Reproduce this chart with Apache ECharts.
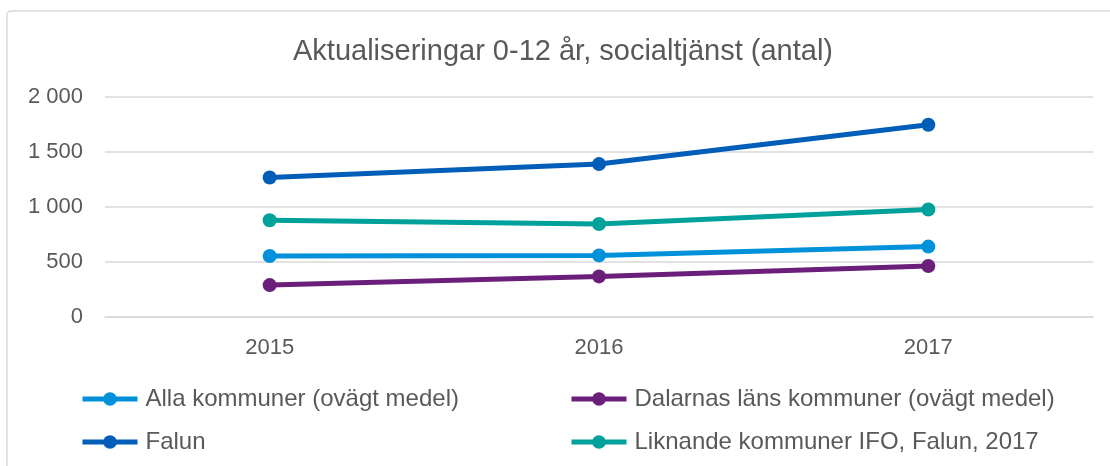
<!DOCTYPE html>
<html>
<head>
<meta charset="utf-8">
<script src="https://cdn.jsdelivr.net/npm/echarts@6/dist/echarts.min.js"></script>
<style>
  html, body { margin: 0; padding: 0; background: #fff; }
  #chart { width: 1110px; height: 466px; }
</style>
</head>
<body>
<div id="chart"></div>
<script>
var years = ['2015', '2016', '2017'];
var yTicks = [0, 500, 1000, 1500, 2000];

var allaKommuner = [554, 560, 640];
var dalarnas = [290, 369, 463];
var falun = [1268, 1390, 1748];
var liknande = [879, 846, 977];

var names = [
  'Alla kommuner (ovägt medel)',
  'Dalarnas läns kommuner (ovägt medel)',
  'Falun',
  'Liknande kommuner IFO, Falun, 2017'
];
var colors = ['#0091DA', '#6C1F7A', '#005EB8', '#00A19A'];

var myChart = echarts.init(document.getElementById('chart'));

function makeSeries(name, data, color) {
  return {
    name: name,
    type: 'line',
    data: data,
    symbol: 'circle',
    symbolSize: 14,
    lineStyle: { width: 5, color: color },
    itemStyle: { color: color },
    emphasis: { disabled: true }
  };
}

var textColor = '#595959';
var font = 'Liberation Sans, Arial, sans-serif';

function legendAt(left, data) {
  return {
    data: data,
    orient: 'vertical',
    left: left,
    top: 382,
    itemWidth: 55,
    itemHeight: 17,
    itemGap: 19,
    lineStyle: { width: 5 },
    textStyle: { color: textColor, fontSize: 24, fontFamily: font, padding: [0, 0, 0, 3] }
  };
}

var option = {
  animation: false,
  color: colors,
  title: {
    text: 'Aktualiseringar 0-12 år, socialtjänst (antal)',
    left: 288,
    top: 32,
    textStyle: { color: textColor, fontSize: 29, fontWeight: 'normal', fontFamily: font }
  },
  graphic: [{
    type: 'rect',
    shape: { x: 7, y: 11, width: 1120, height: 480, r: 4 },
    style: { fill: 'none', stroke: '#d9d9d9', lineWidth: 1.5 },
    silent: true
  }],
  legend: [
    legendAt(75, [names[0], names[2]]),
    legendAt(564, [names[1], names[3]])
  ],
  grid: { left: 105, right: 17, top: 97, bottom: 149 },
  xAxis: {
    type: 'category',
    data: years,
    axisLine: { show: true, lineStyle: { color: '#d9d9d9', width: 1.5 } },
    axisTick: { show: false },
    axisLabel: { color: textColor, fontSize: 22, fontFamily: font, margin: 20 }
  },
  yAxis: {
    type: 'value',
    min: yTicks[0],
    max: yTicks[yTicks.length - 1],
    interval: 500,
    axisLine: { show: false },
    axisTick: { show: false },
    splitLine: { lineStyle: { color: '#d9d9d9', width: 1.5 } },
    axisLabel: {
      color: textColor, fontSize: 22, fontFamily: font, margin: 22,
      formatter: function (v) { return String(v).replace(/\B(?=(\d{3})+(?!\d))/g, ' '); }
    }
  },
  series: [
    makeSeries(names[0], allaKommuner, colors[0]),
    makeSeries(names[1], dalarnas, colors[1]),
    makeSeries(names[2], falun, colors[2]),
    makeSeries(names[3], liknande, colors[3])
  ]
};

myChart.setOption(option);
</script>
</body>
</html>
